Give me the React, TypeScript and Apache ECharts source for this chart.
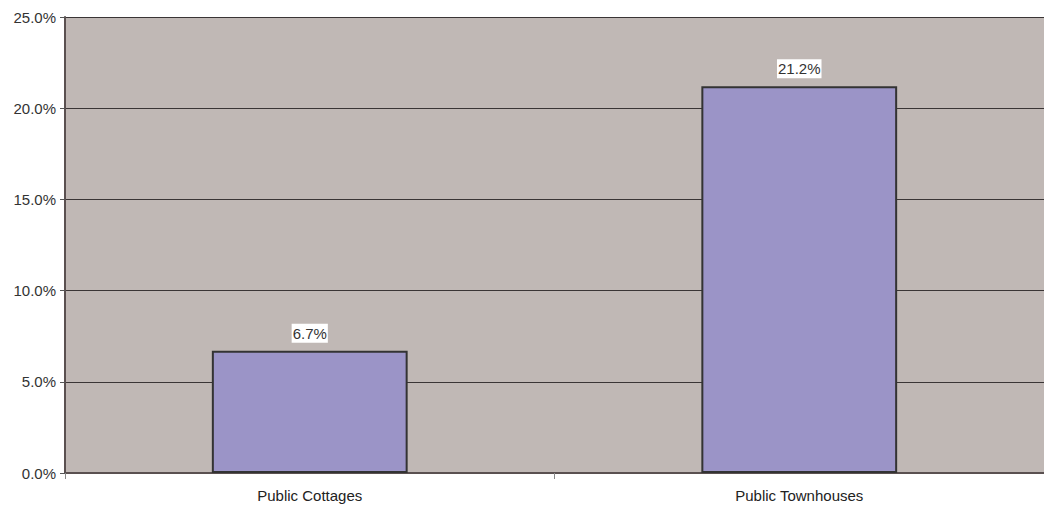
import React, { useEffect, useRef } from "react";
import * as echarts from "echarts";

const categories = ["Public Cottages", "Public Townhouses"];
const values = [6.7, 21.2];
const yTicks = [0, 5, 10, 15, 20, 25];

const FONT = "Liberation Sans, Arial, sans-serif";

export default function App() {
  const ref = useRef<HTMLDivElement>(null);
  useEffect(() => {
    const chart = echarts.init(ref.current!, null, { renderer: "svg" });
    chart.setOption({
      animation: false,
      grid: {
        left: 65,
        right: -5,
        top: 17,
        bottom: 34,
        show: true,
        backgroundColor: "#C0B8B5",
        borderWidth: 0,
      },
      xAxis: {
        type: "category",
        data: categories,
        axisLine: { lineStyle: { color: "#5a5050", width: 2 } },
        axisTick: { show: true, alignWithLabel: false, length: 6, lineStyle: { color: "#888" } },
        axisLabel: { color: "#222", fontSize: 15, fontFamily: FONT, margin: 15 },
        splitLine: { show: false },
      },
      yAxis: {
        type: "value",
        min: yTicks[0],
        max: yTicks[yTicks.length - 1],
        interval: 5,
        axisLine: { show: true, lineStyle: { color: "#5a5050", width: 2 } },
        axisTick: { show: true, length: 5, lineStyle: { color: "#555" } },
        axisLabel: {
          color: "#333",
          fontSize: 15,
          fontFamily: FONT,
          margin: 9,
          formatter: (v: number) => v.toFixed(1) + "%",
        },
        splitLine: { show: true, lineStyle: { color: "#3a3535", width: 1 } },
      },
      series: [
        {
          type: "bar",
          data: values,
          barWidth: "40%",
          itemStyle: { color: "#9B94C7", borderColor: "#333333", borderWidth: 2 },
          label: {
            show: true,
            position: "top",
            distance: 8,
            formatter: (p: any) => p.value.toFixed(1) + "%",
            color: "#333",
            fontSize: 15,
            fontFamily: FONT,
            backgroundColor: "#ffffff",
            padding: [2, 1, 2, 1],
          },
        },
      ],
    });
    return () => chart.dispose();
  }, []);
  return <div ref={ref} style={{ width: 1044, height: 507, position: "absolute", left: 0, top: 0 }} />;
}
